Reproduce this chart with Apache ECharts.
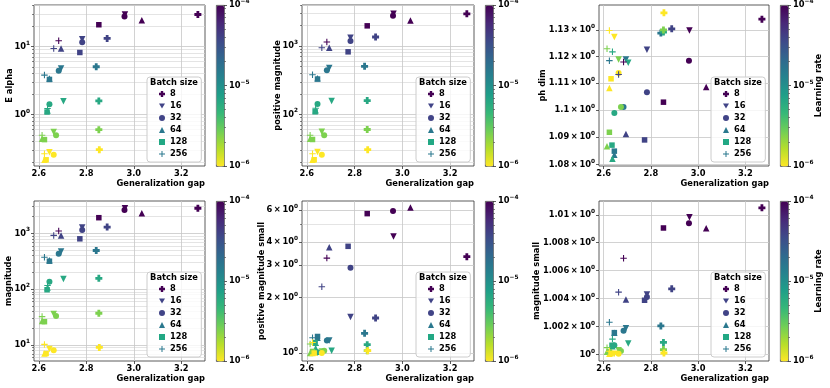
<!DOCTYPE html>
<html>
<head>
<meta charset="utf-8">
<script src="https://cdn.jsdelivr.net/npm/echarts@6/dist/echarts.min.js"></script>
<style>
html, body { margin: 0; padding: 0; background: #fff; }
#chart { width: 830px; height: 388px; }
</style>
</head>
<body>
<div id="chart"></div>
<script>
var chart = echarts.init(document.getElementById('chart'));

var FONT = 'DejaVu Sans';
var FS = 8.3;

// batch sizes (columns) and learning rates (rows)
var batchSizes = ['8', '16', '32', '64', '128', '256'];
var learningRates = [1e-4, 4e-5, 1.6e-5, 6.3e-6, 2.5e-6, 1e-6];

// generalization gap, rows = learning rate, cols = batch size
var gap = [
    [3.270, 2.963, 2.961, 3.034, 2.853, 2.684],
    [2.888, 2.783, 2.783, 2.694, 2.773, 2.663],
    [2.842, 2.694, 2.684, 2.645, 2.645, 2.624],
    [2.853, 2.704, 2.645, 2.637, 2.635, 2.637],
    [2.853, 2.663, 2.673, 2.614, 2.624, 2.614],
    [2.855, 2.645, 2.663, 2.624, 2.631, 2.624]
];

var eAlpha = [
    [29.7, 29.7, 27.8, 24.5, 21.0, 12.2],
    [13.2, 12.8, 11.6, 9.4, 8.2, 9.4],
    [5.06, 4.78, 4.42, 3.39, 3.29, 3.81],
    [1.59, 1.57, 1.42, 1.15, 1.09, 1.23],
    [0.60, 0.555, 0.495, 0.44, 0.428, 0.495],
    [0.304, 0.28, 0.256, 0.216, 0.216, 0.265]
];

var posMag = [
    [2970, 2970, 2780, 2370, 1980, 1150],
    [1360, 1330, 1190, 944, 824, 944],
    [506, 478, 442, 339, 329, 381],
    [159, 157, 142, 115, 109, 123],
    [60, 55.5, 49.5, 44, 42.8, 49.5],
    [30.4, 28, 25.6, 21.6, 21.6, 26.5]
];

var phDim = [
    [1.1341, 1.1298, 1.1184, 1.1085, 1.1029, 1.1179],
    [1.1304, 1.1225, 1.1066, 1.0912, 1.0890, 1.1132],
    [1.1288, 1.1188, 1.1011, 1.0836, 1.0849, 1.1184],
    [1.1292, 1.1176, 1.0989, 1.0821, 1.0871, 1.1217],
    [1.1300, 1.1188, 1.1011, 1.0867, 1.0918, 1.1229],
    [1.1365, 1.1273, 1.1138, 1.1082, 1.1116, 1.1298]
];

var magnitude = [
    [2820, 2820, 2620, 2290, 1910, 1100],
    [1300, 1270, 1150, 920, 800, 920],
    [494, 474, 430, 331, 318, 375],
    [157, 152, 136, 108, 98, 117],
    [37.2, 36.2, 33.3, 27, 26.3, 32.4],
    [9.1, 8.5, 8.1, 7.08, 7.08, 10.3]
];

var posMagSmall = [
    [3.34, 4.30, 5.91, 6.17, 5.72, 3.28],
    [1.55, 1.57, 2.91, 3.76, 3.80, 2.29],
    [1.28, 1.17, 1.17, 1.21, 1.23, 1.21],
    [1.11, 1.03, 1.01, 1.06, 1.14, 1.10],
    [1.03, 1.02, 1.03, 1.00, 1.02, 1.12],
    [1.03, 1.00, 1.00, 1.00, 1.00, 1.14]
];

var magSmall = [
    [1.01051, 1.00983, 1.0094, 1.00904, 1.00906, 1.00689],
    [1.0047, 1.00429, 1.00412, 1.00393, 1.00388, 1.00446],
    [1.00205, 1.00188, 1.00171, 1.00157, 1.00157, 1.00231],
    [1.00087, 1.0008, 1.00067, 1.0006, 1.00067, 1.00111],
    [1.00036, 1.00031, 1.00027, 1.0002, 1.0002, 1.0005],
    [1.00012, 1.00007, 1.00007, 1.00007, 1.00007, 1.00024]
];

// tick values
var xTicks = [2.6, 2.8, 3.0, 3.2];
var eAlphaTicks = [1, 10];
var eAlphaMinor = [0.2, 0.3, 0.4, 0.5, 0.6, 0.7, 0.8, 0.9, 2, 3, 4, 5, 6, 7, 8, 9, 20, 30, 40];
var posMagTicks = [100, 1000];
var posMagMinor = [20, 30, 40, 50, 60, 70, 80, 90, 200, 300, 400, 500, 600, 700, 800, 900, 2000, 3000, 4000];
var phDimTicks = [1.08, 1.09, 1.10, 1.11, 1.12, 1.13];
var magTicks = [10, 100, 1000];
var magMinor = [6, 7, 8, 9, 20, 30, 40, 50, 60, 70, 80, 90, 200, 300, 400, 500, 600, 700, 800, 900, 2000, 3000];
var posMagSmallTicks = [1, 2, 3, 4, 6];
var posMagSmallMinor = [5];
var magSmallTicks = [1, 1.002, 1.004, 1.006, 1.008, 1.01];
var cbTicks = [1e-6, 1e-5, 1e-4];
var cbMinor = [2e-6, 3e-6, 4e-6, 5e-6, 6e-6, 7e-6, 8e-6, 9e-6, 2e-5, 3e-5, 4e-5, 5e-5, 6e-5, 7e-5, 8e-5, 9e-5];

var panels = [
    {name: 'E alpha', values: eAlpha, min: 0.175, max: 41, ticks: eAlphaTicks, minor: eAlphaMinor, nameGap: 20},
    {name: 'positive magnitude', values: posMag, min: 17.5, max: 4000, ticks: posMagTicks, minor: posMagMinor, nameGap: 20},
    {name: 'ph dim', values: phDim, min: 1.0795, max: 1.1395, ticks: phDimTicks, minor: [], nameGap: 52},
    {name: 'magnitude', values: magnitude, min: 5.2, max: 3800, ticks: magTicks, minor: magMinor, nameGap: 21},
    {name: 'positive magnitude small', values: posMagSmall, min: 0.905, max: 6.7, ticks: posMagSmallTicks, minor: posMagSmallMinor, nameGap: 36},
    {name: 'magnitude small', values: magSmall, min: 0.99955, max: 1.0110, ticks: magSmallTicks, minor: [], nameGap: 58}
];

var layout = [
    {left: 34, top: 5, width: 171, height: 161},
    {left: 302, top: 5, width: 172, height: 161},
    {left: 599, top: 5, width: 170, height: 161},
    {left: 34, top: 201, width: 171, height: 160},
    {left: 302, top: 201, width: 172, height: 160},
    {left: 599, top: 201, width: 170, height: 160}
];

var markerSymbols = [
    'path://M1.8,0L4.2,0L4.2,1.8L6,1.8L6,4.2L4.2,4.2L4.2,6L1.8,6L1.8,4.2L0,4.2L0,1.8L1.8,1.8Z',
    'path://M0,0L6,0L3,5.2Z',
    'circle',
    'triangle',
    'rect',
    'path://M2.5,0L3.5,0L3.5,2.5L6,2.5L6,3.5L3.5,3.5L3.5,6L2.5,6L2.5,3.5L0,3.5L0,2.5L2.5,2.5Z'
];
var markerSizes = [7, 6.5, 6, 6.5, 5.5, 6.5];
var legendColors = ['#440154', '#414487', '#414487', '#2a788e', '#22a884', '#2a788e'];
var viridisRev = ['#fde725', '#b5de2b', '#6ece58', '#35b779', '#1f9e89', '#26828e', '#31688e', '#3e4a89', '#482878', '#440154'];

// 10^n style labels with superscript
function sciLabel(v) {
    var e = Math.floor(Math.log10(v) + 1e-9);
    var m = parseFloat((v / Math.pow(10, e)).toFixed(4));
    var es = e < 0 ? '\u2212' + (-e) : String(e);
    if (Math.abs(m - 1) < 1e-9) return '{b|10}{s|' + es + '}';
    return '{b|' + m + '\u2009\u00d7\u200910}{s|' + es + '}';
}
var richSup = {
    b: {fontSize: FS, fontWeight: 'bold', fontFamily: FONT, color: '#000'},
    s: {fontSize: 5.8, fontWeight: 'bold', fontFamily: FONT, color: '#000', padding: [0, 0, 7, 0]}
};
var textBold = {fontSize: FS, fontWeight: 'bold', fontFamily: FONT, color: '#000'};

var grid = [], xAxis = [], yAxis = [], series = [], visualMap = [], legend = [], graphic = [];

panels.forEach(function (p, k) {
    var L = layout[k];
    var gi = grid.length;
    grid.push({
        left: L.left, top: L.top, width: L.width, height: L.height,
        show: true, backgroundColor: '#fff', borderColor: '#333', borderWidth: 0.8,
        containLabel: false, outerBoundsMode: 'none'
    });
    var xi = xAxis.length;
    xAxis.push({
        gridIndex: gi, type: 'value', min: 2.58, max: 3.30,
        axisLine: {show: false, onZero: false},
        axisTick: {show: true, length: 3, customValues: xTicks, lineStyle: {color: '#333', width: 0.8}},
        axisLabel: {customValues: xTicks, margin: 4, formatter: function (v) { return v.toFixed(1); }, fontSize: FS, fontWeight: 'bold', fontFamily: FONT, color: '#000'},
        splitLine: {show: true, lineStyle: {color: '#c6c6c6', width: 0.8}},
        name: 'Generalization gap', nameLocation: 'end', nameGap: 0, nameMoveOverlap: false,
        nameTextStyle: {fontSize: FS, fontWeight: 'bold', fontFamily: FONT, color: '#000', align: 'right', verticalAlign: 'top', padding: [14, 0, 0, 0]}
    });
    var yi = yAxis.length;
    yAxis.push({
        gridIndex: gi, type: 'log', min: p.min, max: p.max, position: 'left',
        axisLine: {show: false, onZero: false},
        axisTick: {show: true, length: 3, customValues: p.ticks, lineStyle: {color: '#333', width: 0.8}},
        axisLabel: {customValues: p.ticks, margin: 4, formatter: sciLabel, rich: richSup},
        splitLine: {show: true, lineStyle: {color: '#c6c6c6', width: 0.8}},
        name: p.name, nameLocation: 'middle', nameGap: p.nameGap, nameRotate: 90, nameMoveOverlap: false,
        nameTextStyle: textBold
    });
    yAxis.push({
        gridIndex: gi, type: 'log', min: p.min, max: p.max, position: 'left',
        axisLine: {show: false, onZero: false},
        axisTick: {show: p.minor.length > 0, length: 2, customValues: p.minor.length ? p.minor : [p.min], lineStyle: {color: '#333', width: 0.6}},
        axisLabel: {show: false},
        splitLine: {show: p.minor.length > 0, lineStyle: {color: '#d9d9d9', width: 0.7}}
    });

    var sIdx = [];
    batchSizes.forEach(function (bs, j) {
        var data = learningRates.map(function (lr, i) {
            return [gap[i][j], p.values[i][j], Math.log10(lr)];
        });
        sIdx.push(series.length);
        series.push({
            type: 'scatter', name: bs, xAxisIndex: xi, yAxisIndex: yi,
            data: data, symbol: markerSymbols[j], symbolSize: markerSizes[j],
            itemStyle: {opacity: 1}, emphasis: {disabled: true}, z: 3 + j
        });
    });

    // colorbar
    var cbLeft = L.left + L.width + 11;
    var cg = grid.length;
    grid.push({left: cbLeft, top: L.top, width: 8, height: L.height, show: false, containLabel: false, outerBoundsMode: 'none'});
    xAxis.push({gridIndex: cg, type: 'value', show: false, min: 0, max: 1});
    var cbAxis = {
        gridIndex: cg, type: 'log', min: 1e-6, max: 1e-4, position: 'right',
        axisLine: {show: false, onZero: false},
        axisTick: {show: true, length: 3, customValues: cbTicks, lineStyle: {color: '#333', width: 0.8}},
        axisLabel: {customValues: cbTicks, margin: 5, formatter: sciLabel, rich: richSup},
        splitLine: {show: false}
    };
    if (k === 2 || k === 5) {
        cbAxis.name = 'Learning rate';
        cbAxis.nameLocation = 'middle';
        cbAxis.nameGap = 27;
        cbAxis.nameRotate = 90;
        cbAxis.nameMoveOverlap = false;
        cbAxis.nameTextStyle = textBold;
    }
    yAxis.push(cbAxis);
    yAxis.push({
        gridIndex: cg, type: 'log', min: 1e-6, max: 1e-4, position: 'right',
        axisLine: {show: false, onZero: false},
        axisTick: {show: true, length: 2, customValues: cbMinor, lineStyle: {color: '#333', width: 0.6}},
        axisLabel: {show: false},
        splitLine: {show: false}
    });
    visualMap.push({
        type: 'continuous', min: -6, max: -4, dimension: 2, seriesIndex: sIdx,
        inRange: {color: viridisRev}, calculable: false, text: null, showLabel: false,
        left: cbLeft, top: L.top, itemWidth: 8, itemHeight: L.height,
        padding: 0, borderColor: '#333', borderWidth: 0.8, hoverLink: false
    });

    // legend
    var lgLeft = L.left + L.width - 58;
    var lgTop = L.top + L.height - 89;
    legend.push({
        left: lgLeft, top: lgTop, orient: 'vertical', selectedMode: false,
        itemWidth: 6, itemHeight: 6, itemGap: 0, itemTextGap: 4,
        padding: [11, 14, 2, 12],
        backgroundColor: 'rgba(255,255,255,0.8)', borderColor: '#cccccc', borderWidth: 1, borderRadius: 3,
        textStyle: {fontSize: FS, fontWeight: 'bold', fontFamily: FONT, color: '#000', lineHeight: 12},
        data: batchSizes.map(function (bs, j) {
            return {name: bs, icon: markerSymbols[j], itemStyle: {color: legendColors[j], borderWidth: 0}};
        })
    });
    graphic.push({
        type: 'text', x: lgLeft + 27, y: lgTop + 6, z: 100,
        style: {text: 'Batch size', font: 'bold ' + FS + 'px "DejaVu Sans"', fill: '#000',
            align: 'center', verticalAlign: 'middle', textAlign: 'center', textVerticalAlign: 'middle'}
    });
});

var option = {
    animation: false,
    backgroundColor: '#fff',
    grid: grid,
    xAxis: xAxis,
    yAxis: yAxis,
    visualMap: visualMap,
    legend: legend,
    graphic: graphic,
    series: series
};

chart.setOption(option);
</script>
</body>
</html>
